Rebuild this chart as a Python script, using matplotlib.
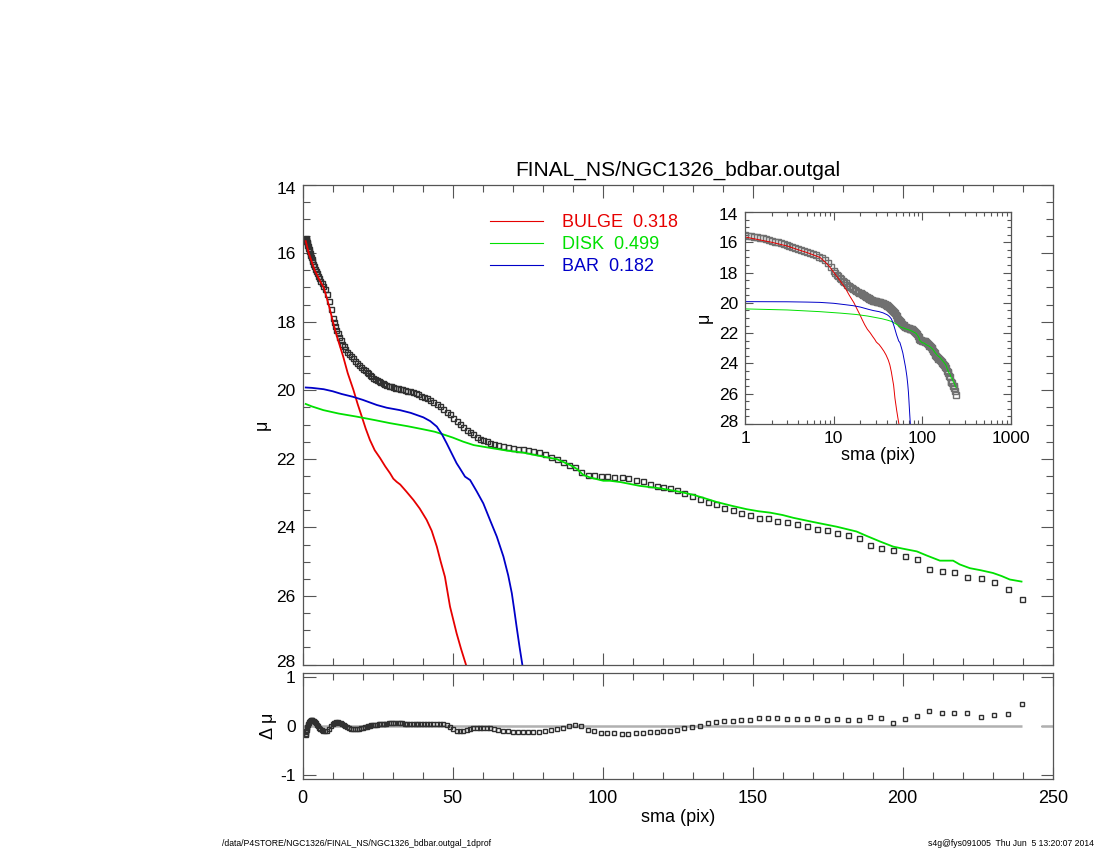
import numpy as np
import matplotlib
matplotlib.use('Agg')
import matplotlib.pyplot as plt
from matplotlib.lines import Line2D
from matplotlib.transforms import ScaledTranslation
from matplotlib.ticker import MultipleLocator, LogLocator, NullFormatter

plt.rcParams['font.family'] = ['Liberation Sans', 'DejaVu Sans']
plt.rcParams['axes.unicode_minus'] = False

# observed profile (sma in pix, surface brightness mu)
sma = [1.00, 1.08, 1.17, 1.26, 1.36, 1.47, 1.59, 1.71, 1.85, 2.00,
       2.16, 2.33, 2.52, 2.72, 2.94, 3.17, 3.43, 3.70, 4.00, 4.32,
       4.66, 5.03, 5.44, 5.87, 6.34, 6.85, 7.40, 7.99, 8.63, 9.32,
       10.0, 10.4, 10.8, 11.2, 11.7, 12.2, 12.6, 13.2, 13.7, 14.2,
       14.8, 15.4, 16.0, 16.6, 17.3, 18.0, 18.7, 19.5,
       20.2, 20.7, 21.3, 21.8, 22.3, 22.9, 23.5, 24.1, 24.7, 25.3,
       25.9, 26.6, 27.2, 27.9, 28.6, 29.3, 30.1, 30.8, 31.6, 32.4,
       33.2, 34.0, 34.9, 35.7, 36.6, 37.6, 38.5, 39.5, 40.4, 41.4,
       42.5, 43.5, 44.6, 45.7, 46.9,
       48.0, 49.1, 50.2, 51.3, 52.4, 53.5, 54.7, 55.8, 56.9, 58.0,
       59.1, 60.2, 61.3, 62.4, 63.8, 65.2, 66.9, 68.5, 70.2, 71.9,
       73.5, 75.2, 76.9, 78.9, 80.8, 82.7, 84.7, 86.7, 88.7, 90.8,
       92.8, 95.0, 97.1, 99.3, 101.5, 103.9, 106.3, 108.5, 111.0, 113.3,
       115.8, 118.0, 120.2, 122.4, 124.7, 127.2, 129.7, 132.4, 135.2, 137.8,
       140.5, 143.3, 146.1, 149.1, 152.1, 155.0, 158.0, 161.3, 164.7, 168.0,
       171.3, 174.7, 178.2, 181.7, 185.4, 189.1, 192.8, 196.7, 200.7, 204.7,
       208.8, 213.0, 217.1, 221.3, 226.0, 230.4, 235.1, 239.7]

mu = [15.55, 15.58, 15.61, 15.64, 15.67, 15.71, 15.75, 15.79, 15.84, 15.89,
      15.95, 16.00, 16.06, 16.12, 16.18, 16.24, 16.31, 16.38, 16.45, 16.52,
      16.59, 16.66, 16.73, 16.80, 16.87, 16.95, 17.05, 17.20, 17.40, 17.63,
      17.90, 18.02, 18.13, 18.23, 18.34, 18.45, 18.53, 18.64, 18.72, 18.79,
      18.87, 18.94, 19.00, 19.07, 19.14, 19.20, 19.26, 19.33,
      19.38, 19.42, 19.47, 19.51, 19.55, 19.59, 19.63, 19.67, 19.71, 19.74,
      19.77, 19.80, 19.83, 19.85, 19.87, 19.89, 19.91, 19.93, 19.94, 19.96,
      19.97, 19.99, 20.01, 20.03, 20.06, 20.09, 20.12, 20.16, 20.20, 20.24,
      20.29, 20.34, 20.40, 20.47, 20.54,
      20.63, 20.70, 20.80, 20.90, 20.99, 21.07, 21.15, 21.22, 21.29, 21.35,
      21.41, 21.45, 21.49, 21.53, 21.57, 21.60, 21.63, 21.66, 21.68, 21.70,
      21.72, 21.74, 21.76, 21.80, 21.86, 21.94, 22.01, 22.09, 22.17, 22.25,
      22.37, 22.47, 22.48, 22.50, 22.51, 22.52, 22.54, 22.57, 22.61, 22.66,
      22.74, 22.78, 22.83, 22.86, 22.91, 23.00, 23.08, 23.16, 23.27, 23.32,
      23.42, 23.50, 23.58, 23.63, 23.73, 23.72, 23.80, 23.83, 23.91, 23.96,
      24.04, 24.08, 24.17, 24.23, 24.32, 24.51, 24.59, 24.66, 24.83, 24.93,
      25.22, 25.26, 25.29, 25.46, 25.47, 25.60, 25.79, 26.09]

dmu = [-0.20, -0.17, -0.14, -0.11, -0.08, -0.05, -0.02, 0.01, 0.04, 0.06,
       0.08, 0.09, 0.10, 0.11, 0.11, 0.11, 0.10, 0.09, 0.07, 0.05,
       0.02, -0.01, -0.04, -0.07, -0.09, -0.11, -0.12, -0.10, -0.06, -0.01,
       0.03, 0.05, 0.06, 0.07, 0.07, 0.06, 0.05, 0.03, 0.01, -0.01,
       -0.03, -0.05, -0.06, -0.07, -0.07, -0.07, -0.06, -0.05,
       -0.04, -0.03, -0.02, -0.01, 0.00, 0.01, 0.01, 0.02, 0.02, 0.03,
       0.03, 0.04, 0.04, 0.04, 0.05, 0.05, 0.05, 0.05, 0.05, 0.05,
       0.05, 0.04, 0.04, 0.04, 0.04, 0.04, 0.04, 0.04, 0.04, 0.04,
       0.04, 0.04, 0.04, 0.04, 0.03,
       0.02, -0.03, -0.07, -0.10, -0.11, -0.11, -0.09, -0.07, -0.05, -0.04,
       -0.04, -0.04, -0.04, -0.05, -0.07, -0.09, -0.11, -0.12, -0.13, -0.13,
       -0.13, -0.13, -0.13, -0.13, -0.10, -0.09, -0.07, -0.04, 0.00, 0.02,
       0.00, -0.09, -0.11, -0.15, -0.16, -0.16, -0.18, -0.17, -0.16, -0.15,
       -0.14, -0.13, -0.12, -0.11, -0.09, -0.05, -0.02, 0.00, 0.06, 0.07,
       0.09, 0.09, 0.11, 0.12, 0.16, 0.15, 0.16, 0.13, 0.14, 0.14,
       0.15, 0.11, 0.14, 0.12, 0.12, 0.17, 0.15, 0.05, 0.14, 0.19,
       0.30, 0.25, 0.26, 0.26, 0.17, 0.21, 0.24, 0.45]

# model components
bulge_r = [1.0, 2.0, 3.0, 4.0, 5.0, 6.0, 7.0, 8.0, 9.0, 10.0, 11.0, 12.0,
           13.5, 15.0, 16.9, 18.3, 19.7, 21.0, 22.4, 24.0, 25.8, 27.5, 29.1,
           30.2, 31.3, 32.5, 34.5, 36.9, 39.0, 41.3, 43.0, 44.7, 46.0, 47.4,
           48.3, 49.1, 50.2, 51.3, 52.8, 54.4, 55.5]
bulge_mu = [15.65, 16.00, 16.25, 16.50, 16.68, 16.85, 17.00, 17.30, 17.62,
            17.98, 18.30, 18.60, 19.02, 19.50, 19.99, 20.40, 20.77, 21.12,
            21.45, 21.75, 21.98, 22.22, 22.42, 22.58, 22.67, 22.75, 22.95,
            23.20, 23.45, 23.78, 24.10, 24.56, 25.00, 25.44, 25.90, 26.31,
            26.70, 27.09, 27.55, 28.00, 28.30]

disk_r = [1.0, 3.0, 6.9, 12.0, 18.0, 24.0, 29.1, 35.0, 40.2, 44.0, 46.9,
          50.0, 53.5, 57.0, 62.4, 68.0, 73.5, 78.0, 84.7, 89.1, 91.5, 93.5,
          96.0, 100.2, 102.4, 106.0, 112.4, 119.1, 125.0, 130.2, 134.0,
          138.0, 143.0, 148.0, 152.0, 155.8, 160.0, 163.5, 170.0, 178.0,
          184.6, 188.0, 192.4, 196.8, 200.0, 204.7, 208.0, 212.4, 216.8,
          219.0, 222.4, 226.0, 230.1, 233.0, 235.7, 239.6]
disk_mu = [20.40, 20.47, 20.58, 20.68, 20.77, 20.87, 20.96, 21.05, 21.14,
           21.21, 21.29, 21.38, 21.50, 21.60, 21.68, 21.76, 21.82, 21.90,
           22.01, 22.18, 22.30, 22.47, 22.55, 22.64, 22.64, 22.68, 22.79,
           22.86, 22.95, 23.05, 23.15, 23.26, 23.37, 23.47, 23.53, 23.57,
           23.64, 23.72, 23.84, 23.98, 24.12, 24.25, 24.41, 24.56, 24.62,
           24.70, 24.82, 24.97, 24.97, 25.08, 25.19, 25.25, 25.33, 25.42,
           25.52, 25.58]

bar_r = [1.0, 3.0, 5.0, 7.0, 10.0, 13.0, 16.7, 20.0, 24.7, 28.0, 32.4, 36.0,
         40.2, 42.5, 44.7, 46.5, 48.0, 49.7, 51.3, 52.4, 54.1, 55.8, 58.0,
         60.2, 62.5, 64.7, 66.9, 68.5, 69.7, 70.5, 71.3, 72.3, 73.2, 73.8]
bar_mu = [19.92, 19.93, 19.95, 19.97, 20.03, 20.11, 20.19, 20.28, 20.43,
          20.51, 20.58, 20.66, 20.79, 20.90, 21.06, 21.30, 21.55, 21.85,
          22.13, 22.28, 22.52, 22.62, 22.95, 23.30, 23.80, 24.27, 24.85,
          25.40, 25.92, 26.40, 26.90, 27.50, 28.00, 28.40]

labels = ['BULGE  0.318', 'DISK  0.499', 'BAR  0.182']
c_bulge, c_disk, c_bar = '#e60000', '#00e000', '#0000c8'
frame = '#555555'

fig = plt.figure(figsize=(11, 8.5), dpi=100)
ax = fig.add_axes([0.2752, 0.2182, 0.6818, 0.5647])
ax2 = fig.add_axes([0.2752, 0.0840, 0.6818, 0.1247])
ins = fig.add_axes([0.6773, 0.5012, 0.2418, 0.2494])


def style(a, fs=12.5):
    for s in a.spines.values():
        s.set_color(frame)
        s.set_linewidth(0.9)
    a.tick_params(which='both', direction='in', top=True, right=True,
                  color=frame, labelsize=fs, width=0.8)
    a.tick_params(which='major', length=9, pad=5)
    a.tick_params(which='minor', length=5)


# main panel
ax.plot(sma, mu, ls='none', marker='s', ms=3.6, mfc='none',
        mec='#303030', mew=1.0)
ax.plot(bulge_r, bulge_mu, color=c_bulge, lw=1.3)
ax.plot(disk_r, disk_mu, color=c_disk, lw=1.3)
ax.plot(bar_r, bar_mu, color=c_bar, lw=1.3)
ax.set_xlim(0, 250)
ax.set_ylim(28, 14)
ax.xaxis.set_major_locator(MultipleLocator(50))
ax.xaxis.set_minor_locator(MultipleLocator(10))
ax.set_yticks([14, 16, 18, 20, 22, 24, 26, 28])
ax.yaxis.set_minor_locator(MultipleLocator(0.5))
ax.set_xticklabels([])
style(ax)
ax.set_ylabel('μ', fontsize=13, labelpad=4)
ax.set_title('FINAL_NS/NGC1326_bdbar.outgal', fontsize=15, pad=6)

handles = [Line2D([], [], color=c, lw=0.8) for c in (c_bulge, c_disk, c_bar)]
leg = ax.legend(handles, labels, loc='upper left', bbox_to_anchor=(0.25, 0.938),
                frameon=False, fontsize=13, handlelength=2.9, handletextpad=1.05,
                labelspacing=0.28, borderpad=0, borderaxespad=0)
for t, c in zip(leg.get_texts(), (c_bulge, c_disk, c_bar)):
    t.set_color(c)

# residual panel
ax2.hlines([0, 0], [0, 246], [239.7, 250], color='#b0b0b0', lw=1.8)
ax2.plot(sma, dmu, ls='none', marker='s', ms=3.0, mfc='none',
         mec='#303030', mew=1.0)
ax2.set_xlim(0, 250)
ax2.set_ylim(-1.08, 1.08)
ax2.xaxis.set_major_locator(MultipleLocator(50))
ax2.xaxis.set_minor_locator(MultipleLocator(10))
ax2.yaxis.set_major_locator(MultipleLocator(1))
style(ax2)
ax2.tick_params(axis='x', pad=8, labelsize=13)
ax2.set_xlabel('sma (pix)', fontsize=13, labelpad=2)
ax2.set_ylabel('Δ μ', fontsize=13, labelpad=2)

# inset, log radius
ins.plot(sma, mu, ls='none', marker='s', ms=4.5, mfc='none',
         mec='#707070', mew=1.0)
ins.plot(bulge_r, bulge_mu, color=c_bulge, lw=0.7)
ins.plot(disk_r, disk_mu, color=c_disk, lw=0.7)
ins.plot(bar_r, bar_mu, color=c_bar, lw=0.7)
ins.set_xscale('log')
ins.set_xlim(1, 1000)
ins.set_ylim(28, 14)
ins.xaxis.set_minor_locator(LogLocator(subs=np.arange(2, 10)))
ins.xaxis.set_minor_formatter(NullFormatter())
ins.set_xticks([1, 10, 100, 1000])
ins.set_xticklabels(['1', '10', '100', '1000'])
ins.set_yticks([14, 16, 18, 20, 22, 24, 26, 28])
ins.yaxis.set_minor_locator(MultipleLocator(0.5))
style(ins)
ins.tick_params(which='major', length=6)
ins.tick_params(which='minor', length=3)
ins.set_xlabel('sma (pix)', fontsize=13, labelpad=1)
ins.set_ylabel('μ', fontsize=13, labelpad=4)

# end labels of the mu axes sit slightly inside the frame, as in the original
fig.canvas.draw()
for a, dy in ((ax, 3.5), (ins, 2.5)):
    ticks = a.yaxis.get_major_ticks()
    for t, sgn in ((ticks[0], -1), (ticks[-1], 1)):
        lab = t.label1
        lab.set_transform(lab.get_transform() +
                          ScaledTranslation(0, sgn * dy / 100, fig.dpi_scale_trans))

# footer
fig.text(222 / 1100, 1 - 843 / 850, '/data/P4STORE/NGC1326/FINAL_NS/NGC1326_bdbar.outgal_1dprof',
         fontsize=6.2, family=['Liberation Sans Narrow', 'Liberation Sans'], va='center')
fig.text(1094 / 1100, 1 - 843 / 850, 's4g@fys091005  Thu Jun  5 13:20:07 2014',
         fontsize=6.2, family=['Liberation Sans Narrow', 'Liberation Sans'], va='center', ha='right')

fig.savefig('out.png', dpi=100)
